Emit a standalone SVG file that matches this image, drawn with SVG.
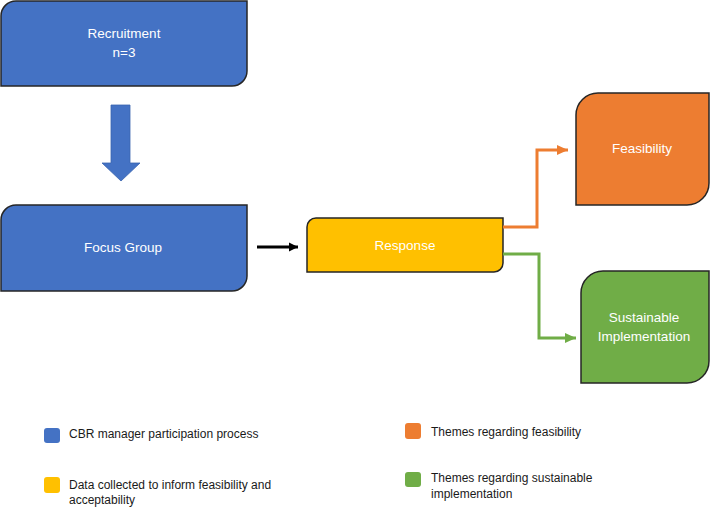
<svg xmlns="http://www.w3.org/2000/svg" width="710" height="508" viewBox="0 0 710 508">
<style>
.box{stroke:#262626;stroke-width:1.5}
.blue{fill:#4472C4}
.orange{fill:#ED7D31}
.yellow{fill:#FFC000}
.green{fill:#70AD47}
.lbl{font-family:"Liberation Sans",Arial,sans-serif;font-size:13.5px;fill:#ffffff;text-anchor:middle}
.leg{font-family:"Liberation Sans",Arial,sans-serif;font-size:12px;fill:#1a1a1a}
.conn{fill:none;stroke-width:3}
</style>
<defs>
<marker id="ahO" markerWidth="4" markerHeight="4" refX="3.7" refY="2" orient="auto" markerUnits="strokeWidth"><path d="M0,0.3 L3.7,2 L0,3.7 Z" fill="#ED7D31"/></marker>
<marker id="ahG" markerWidth="4" markerHeight="4" refX="3.7" refY="2" orient="auto" markerUnits="strokeWidth"><path d="M0,0.3 L3.7,2 L0,3.7 Z" fill="#70AD47"/></marker>
<marker id="ahK" markerWidth="4" markerHeight="4" refX="3" refY="2" orient="auto" markerUnits="strokeWidth"><path d="M0,0.5 L3,2 L0,3.5 Z" fill="#000"/></marker>
</defs>
<rect width="710" height="508" fill="#ffffff"/>

<g id="recruitment">
<path class="box blue" d="M1,16 A15,15 0 0 1 16,1 H247 V71 A15,15 0 0 1 232,86 H1 Z"/>
<text class="lbl" x="124" y="38">Recruitment</text>
<text class="lbl" x="124" y="57">n=3</text>
</g>

<g id="focus-group">
<path class="box blue" d="M1,220 A15,15 0 0 1 16,205 H247 V276 A15,15 0 0 1 232,291 H1 Z"/>
<text class="lbl" x="123" y="252">Focus Group</text>
</g>

<g id="response">
<path class="box yellow" d="M307,227 A9,9 0 0 1 316,218 H503 V263 A9,9 0 0 1 494,272 H307 Z"/>
<text class="lbl" x="405" y="250">Response</text>
</g>

<g id="feasibility">
<path class="box orange" d="M576,115 A22,22 0 0 1 598,93 H709 V183 A22,22 0 0 1 687,205 H576 Z"/>
<text class="lbl" x="642" y="153">Feasibility</text>
</g>

<g id="sustainable-implementation">
<path class="box green" d="M581,293 A22,22 0 0 1 603,271 H709 V361 A22,22 0 0 1 687,383 H581 Z"/>
<text class="lbl" x="644" y="322">Sustainable</text>
<text class="lbl" x="644" y="341">Implementation</text>
</g>

<g id="connectors">
<polygon points="111,105 130,105 130,163 140,163 121,181 102,163 111,163" fill="#4472C4" stroke="#3a64b0" stroke-width="0.8"/>
<line x1="257" y1="247" x2="298" y2="247" stroke="#000" stroke-width="3" marker-end="url(#ahK)"/>
<polyline class="conn" points="503,227 537,227 537,150 568,150" stroke="#ED7D31" marker-end="url(#ahO)"/>
<polyline class="conn" points="503,254 539,254 539,338 576,338" stroke="#70AD47" marker-end="url(#ahG)"/>
</g>

<g id="legend">
<rect x="44" y="428" width="16" height="15" rx="3" class="blue"/>
<text class="leg" x="69" y="438">CBR manager participation process</text>
<rect x="44" y="477" width="16" height="16" rx="3" class="yellow"/>
<text class="leg" x="69" y="489">Data collected to inform feasibility and</text>
<text class="leg" x="69" y="504">acceptability</text>
<rect x="405" y="423" width="16" height="16" rx="3" class="orange"/>
<text class="leg" x="431" y="436">Themes regarding feasibility</text>
<rect x="405" y="472" width="16" height="15" rx="3" class="green"/>
<text class="leg" x="431" y="482">Themes regarding sustainable</text>
<text class="leg" x="431" y="498">implementation</text>
</g>
</svg>
